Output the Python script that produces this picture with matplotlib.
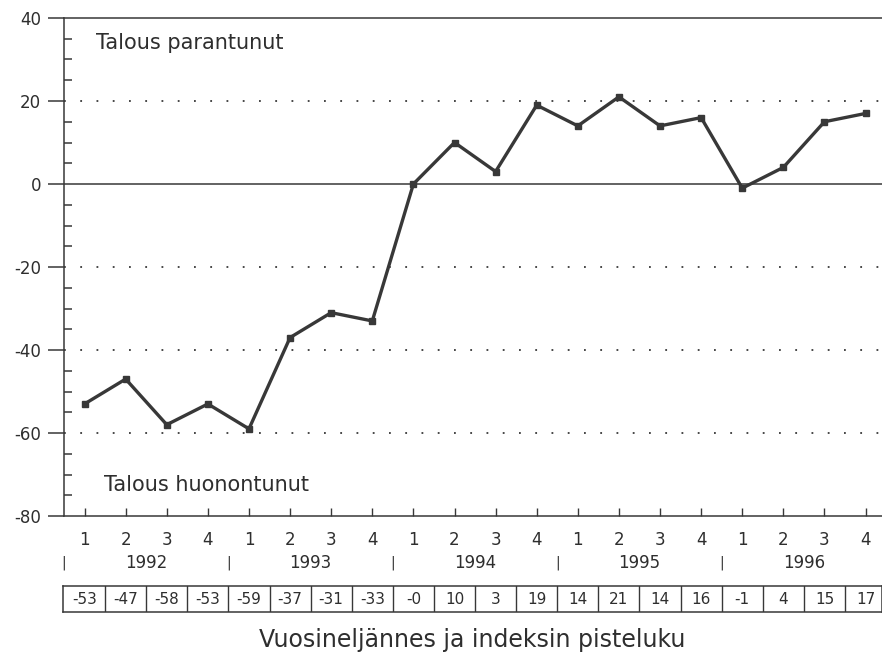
"""
plot.py — Quarterly economy index 1992–1996 with value table below.
"""

import numpy as np
import matplotlib
matplotlib.use("Agg")
import matplotlib.pyplot as plt
from matplotlib.ticker import MultipleLocator

plt.rcParams["font.family"] = ["DejaVu Sans"]
plt.rcParams["axes.unicode_minus"] = False

# ── Data ─────────────────────────────────────────────────────────────────────
years    = ["1992", "1993", "1994", "1995", "1996"]
quarters = ["1", "2", "3", "4"]
values   = [-53, -47, -58, -53, -59, -37, -31, -33, -0, 10,
            3, 19, 14, 21, 14, 16, -1, 4, 15, 17]
table_labels = ["-53", "-47", "-58", "-53", "-59", "-37", "-31", "-33", "-0", "10",
                "3", "19", "14", "21", "14", "16", "-1", "4", "15", "17"]

INK  = "#383838"
TEXT = "#2e2e2e"

W, H = 882, 654
fig = plt.figure(figsize=(W / 100, H / 100), dpi=100)
fig.patch.set_facecolor("white")

# main axes: left 64px, top 18px, bottom 516px, right 882px
ax = fig.add_axes([64 / W, 1 - 516 / H, (W - 64) / W, (516 - 18) / H])
x = np.arange(len(values))
xlim = (-0.5, 19.4)

ax.plot(x, values, color=INK, linewidth=2.4, marker="s", markersize=5,
        markerfacecolor=INK, markeredgecolor=INK, zorder=3)

ax.set_xlim(*xlim)
ax.set_ylim(-80, 40)

# gridlines
for g in (20, -20, -40, -60):
    ax.axhline(g, color=INK, linewidth=1.3, linestyle=(0, (1, 8)), zorder=1)
ax.axhline(0, color=INK, linewidth=1.1, zorder=2)

# spines
ax.spines["right"].set_visible(False)
for s in ("left", "top", "bottom"):
    ax.spines[s].set_color(INK)
    ax.spines[s].set_linewidth(1.1)

# y ticks: majors out to the left, minors in
ax.yaxis.set_major_locator(MultipleLocator(20))
ax.yaxis.set_minor_locator(MultipleLocator(5))
ax.tick_params(axis="y", which="major", direction="out", length=11.5,
               width=1.1, color=INK, labelsize=12, labelcolor=TEXT, pad=5)
ax.tick_params(axis="y", which="minor", direction="in", length=6,
               width=1.1, color=INK)

# x ticks: quarter numbers
ax.set_xticks(x)
ax.set_xticklabels(quarters * len(years))
ax.tick_params(axis="x", which="major", direction="in", length=6, width=1,
               color=INK, labelsize=12, labelcolor=TEXT, pad=11)

trans = ax.get_xaxis_transform()

# year labels and separators
for i, yr in enumerate(years):
    ax.text(4 * i + 1.5, -0.0944, yr, transform=trans, ha="center", va="center",
            fontsize=12, color=TEXT)
    ax.text(4 * i - 0.5, -0.0944, "|", transform=trans, ha="center", va="center",
            fontsize=10, color=TEXT)

ax.text(0.29, 34, "Talous parantunut", fontsize=15, color=TEXT,
        ha="left", va="center")
ax.text(0.48, -72.5, "Talous huonontunut", fontsize=15, color=TEXT,
        ha="left", va="center")

# ── Value table ──────────────────────────────────────────────────────────────
tax = fig.add_axes([63 / W, 1 - 612 / H, (W - 63) / W, 26 / H])
tax.set_xlim(xlim[0] - 1 / 41.16, xlim[1])
tax.set_ylim(0, 1)
tax.set_xticks([])
tax.set_yticks([])
for s in tax.spines.values():
    s.set_color(INK)
    s.set_linewidth(1.1)
for i, lab in enumerate(table_labels):
    if i > 0:
        tax.axvline(i - 0.5, color=INK, linewidth=1.0)
    tax.text(i, 0.5, lab, ha="center", va="center", fontsize=11, color=TEXT)

fig.text(472 / W, 1 - 640 / H, "Vuosineljännes ja indeksin pisteluku",
         ha="center", va="center", fontsize=17, color=TEXT)

fig.savefig("out.png", dpi=100, facecolor="white")
